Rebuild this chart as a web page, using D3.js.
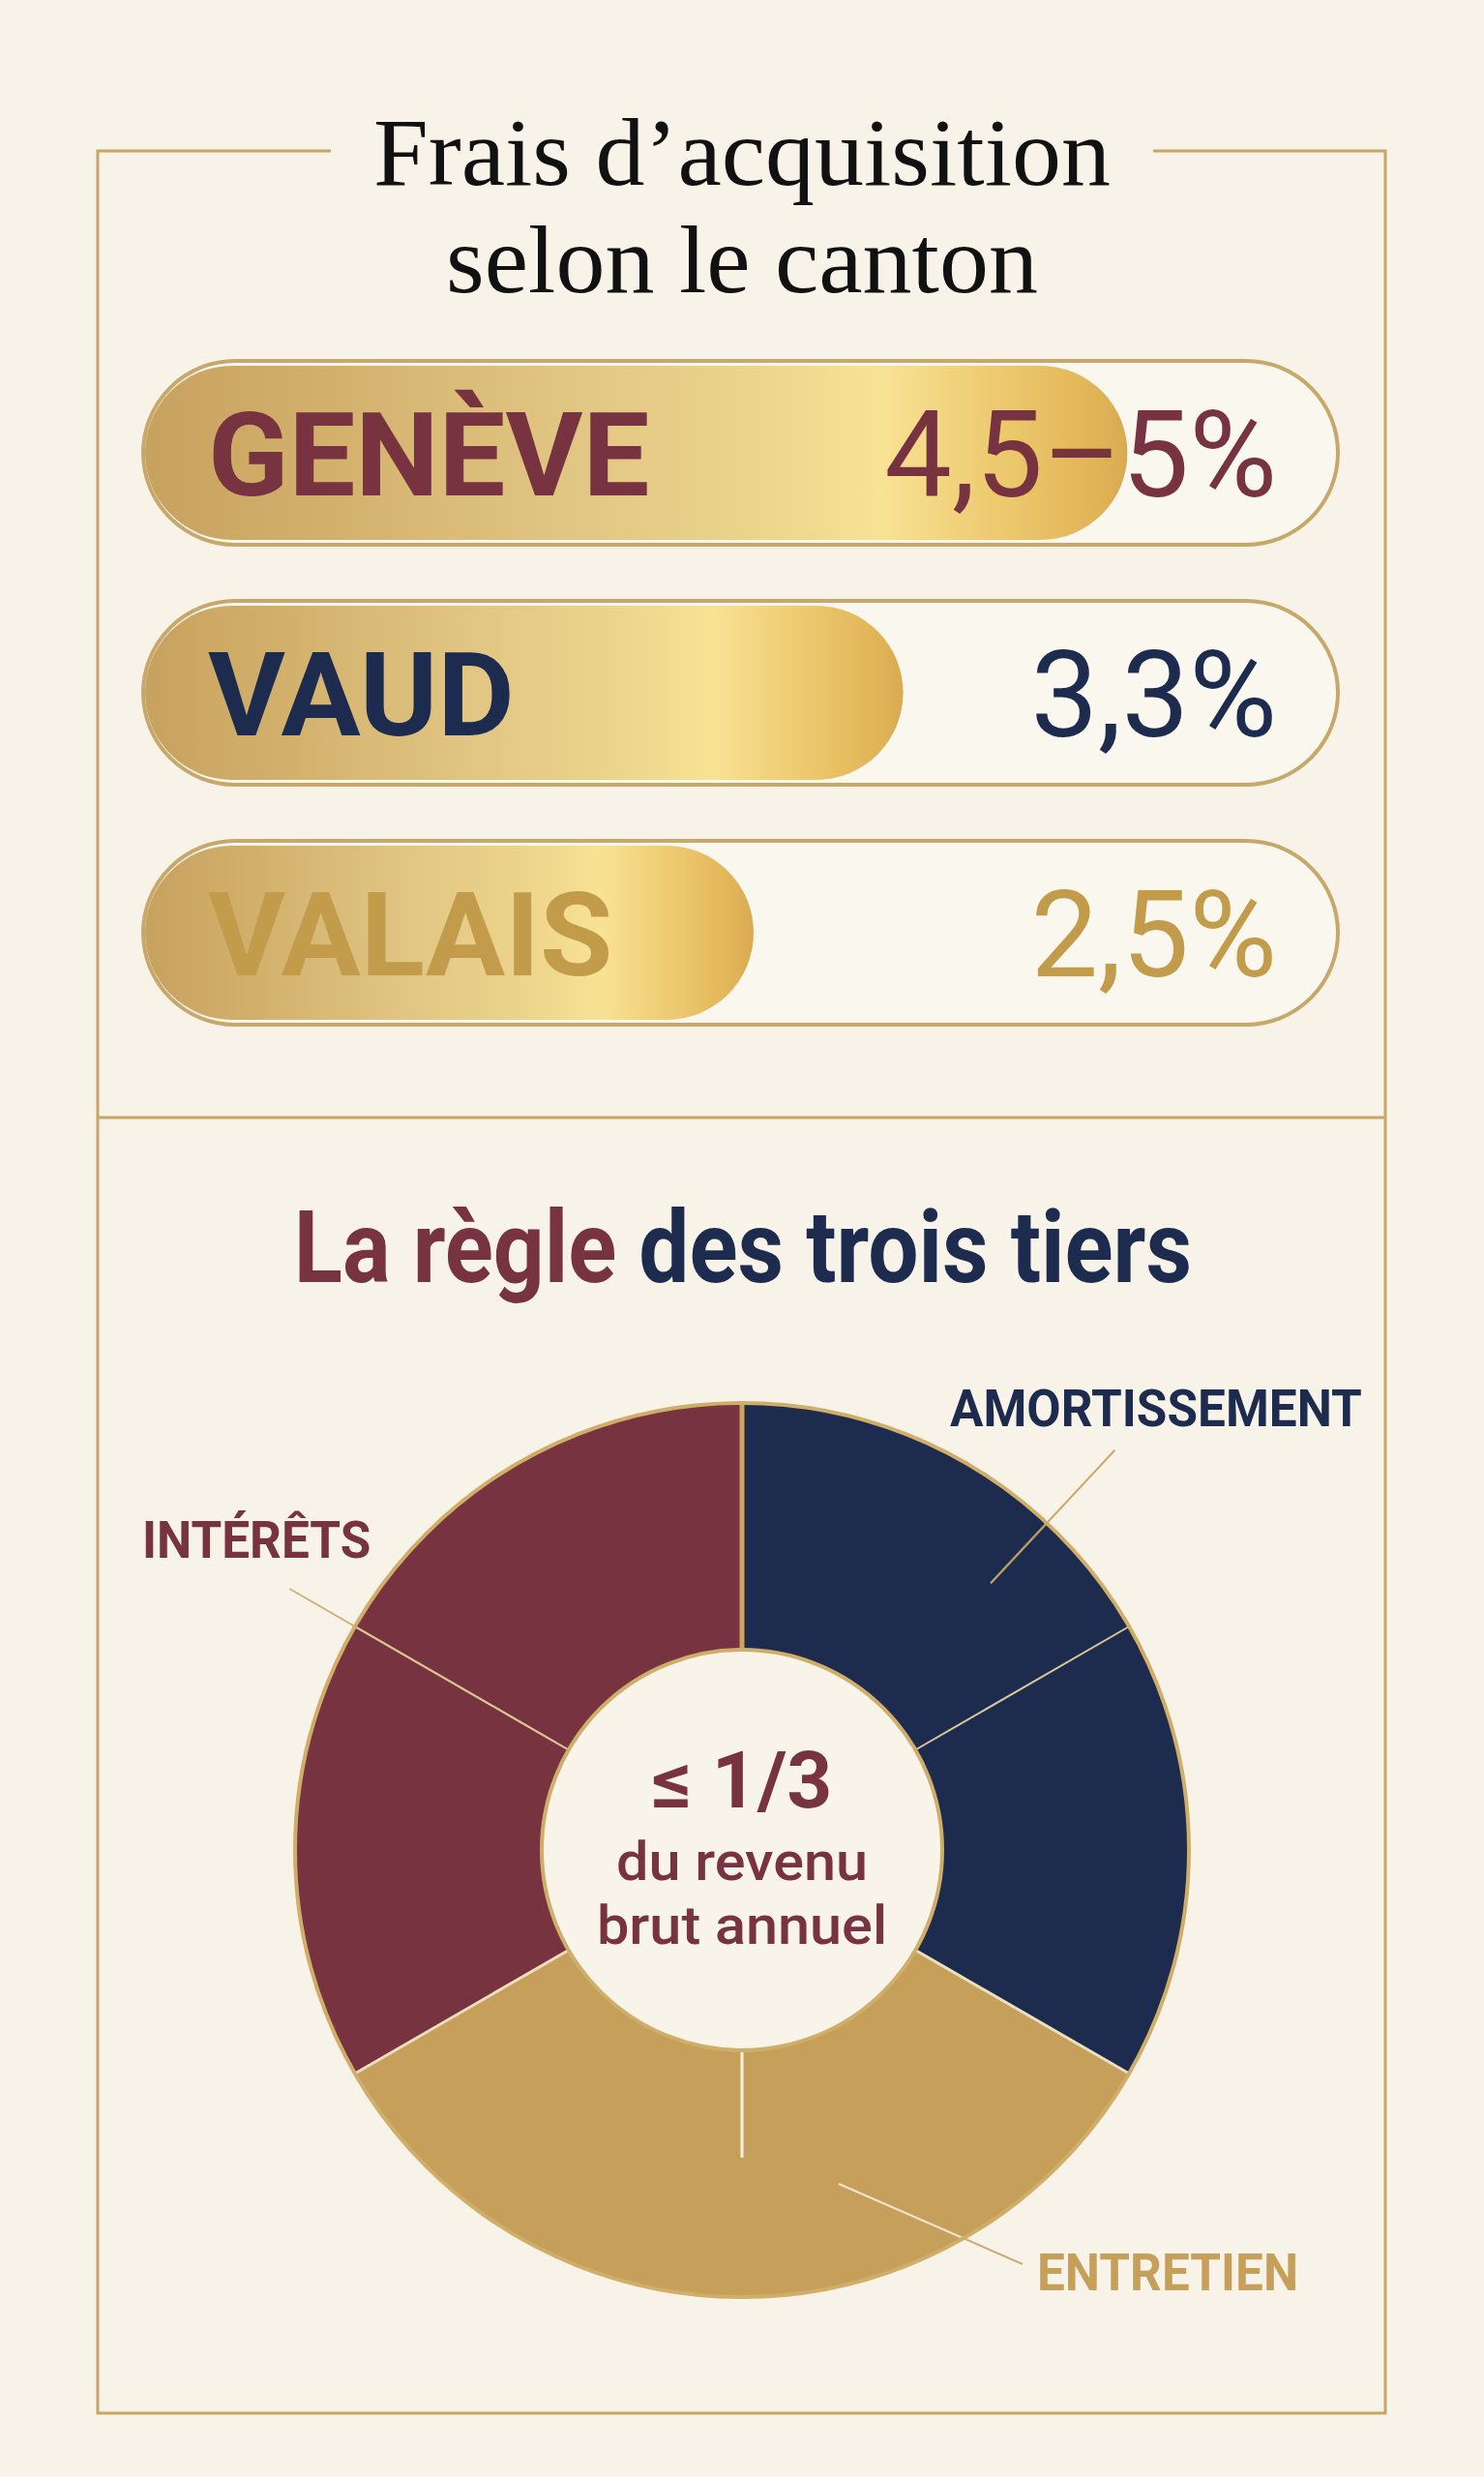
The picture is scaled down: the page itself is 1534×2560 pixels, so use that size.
<!DOCTYPE html>
<html><head><meta charset="utf-8">
<script src="https://cdn.jsdelivr.net/npm/d3@7"></script>
<style>html,body{margin:0;padding:0;background:#f7f3e8;}svg{display:block;}</style>
</head><body>
<svg id="chart" width="1534" height="2560"></svg>
<script>
// ---------- data ----------
const titleLines = ["Frais d’acquisition", "selon le canton"];
const cantons = ["GENÈVE", "VAUD", "VALAIS"];
const rateLow = [4.5, 3.3, 2.5];
const rateHigh = [5, 3.3, 2.5];
const rateLabels = ["4,5–5%", "3,3%", "2,5%"];
const title2Parts = ["La règle ", "des trois tiers"];
const segments = ["AMORTISSEMENT", "ENTRETIEN", "INTÉRÊTS"];
const shares = [1, 1, 1];
const centerLines = ["≤ 1/3", "du revenu", "brut annuel"];

// ---------- style ----------
const BG = "#f7f3e8", GOLD_LINE = "#c6a566";
const BURG = "#77333f", NAVY = "#1c2b4e", GOLD = "#c6a05a";
const cantonColors = [BURG, NAVY, "#c29b4b"];
const segColors = [NAVY, GOLD, BURG];
const SANS = "Roboto, 'Liberation Sans', Arial, sans-serif";
const SERIF = "'Liberation Serif', 'DejaVu Serif', serif";

const svg = d3.select("#chart");
svg.append("rect").attr("width", 1534).attr("height", 2560).attr("fill", BG);

const defs = svg.append("defs");

// ---------- frame ----------
const F = {x0: 101, x1: 1432, y0: 156, y1: 2494, gap0: 342, gap1: 1192, div: 1155};
const frame = svg.append("g").attr("stroke", GOLD_LINE).attr("stroke-width", 3).attr("fill", "none");
frame.append("path").attr("d", `M${F.gap0},${F.y0}H${F.x0}V${F.y1}H${F.x1}V${F.y0}H${F.gap1}`);
frame.append("line").attr("x1", F.x0).attr("x2", F.x1).attr("y1", F.div).attr("y2", F.div);

// helper for horizontally scaled text
function ctext(parent, x, y, sx, anchor) {
  return parent.append("g").attr("transform", `translate(${x},${y}) scale(${sx},1)`)
    .append("text").attr("text-anchor", anchor);
}

// ---------- title 1 ----------
titleLines.forEach((t, i) => {
  ctext(svg, 767, 191 + i * 111, 1.02, "middle")
    .attr("font-family", SERIF).attr("font-size", 100).attr("fill", "#111").text(t);
});

// ---------- bars ----------
const y = d3.scaleBand().domain(cantons).range([373, 1059]).paddingInner(0.234);
const x = d3.scaleLinear().domain([0, 5]).range([296, 1262]);
const trackX0 = 148, trackX1 = 1383, fillX0 = 150;

cantons.forEach((c, i) => {
  const g = defs.append("linearGradient").attr("id", "gold" + i);
  [[0, "#c7a25e"], [0.18, "#d2b06c"], [0.45, "#e2c784"], [0.62, "#ecd48b"], [0.75, "#f8e294"],
   [0.88, "#ecc76c"], [0.96, "#e2b658"], [1, "#d8ab52"]].forEach(s =>
    g.append("stop").attr("offset", s[0]).attr("stop-color", s[1]));
});

const bars = svg.append("g").selectAll("g").data(cantons).join("g");
bars.append("rect")
  .attr("x", trackX0).attr("y", d => y(d))
  .attr("width", trackX1 - trackX0).attr("height", y.bandwidth())
  .attr("rx", y.bandwidth() / 2)
  .attr("fill", "#faf7ee").attr("stroke", "#c8a86a").attr("stroke-width", 4);
bars.append("rect")
  .attr("x", fillX0).attr("y", d => y(d) + 5)
  .attr("width", (d, i) => x(rateLow[i]) - fillX0).attr("height", y.bandwidth() - 10)
  .attr("rx", (y.bandwidth() - 10) / 2)
  .attr("fill", (d, i) => `url(#gold${i})`);
bars.each(function (d, i) {
  const g = d3.select(this);
  const cy = y(d) + y.bandwidth() / 2;
  ctext(g, 215, cy + 44, 1.02, "start")
    .attr("font-family", SANS).attr("font-weight", 700).attr("font-size", 120)
    .attr("fill", cantonColors[i]).text(d);
  ctext(g, 1320, cy + 45, 1.0, "end")
    .attr("font-family", SANS).attr("font-weight", 400).attr("font-size", 124)
    .attr("fill", cantonColors[i]).text(rateLabels[i]);
});

// ---------- title 2 ----------
const t2 = ctext(svg, 768, 1325, 0.9, "middle")
  .attr("font-family", SANS).attr("font-weight", 700).attr("font-size", 103);
t2.append("tspan").attr("fill", BURG).text(title2Parts[0]);
t2.append("tspan").attr("fill", NAVY).text(title2Parts[1]);

// ---------- donut ----------
const cx = 767, cy = 1912, rIn = 207, rOut = 462;
const pie = d3.pie().sort(null).value(d => d)(shares);
const arc = d3.arc().innerRadius(rIn).outerRadius(rOut);
const dg = svg.append("g").attr("transform", `translate(${cx},${cy})`);
const P = (a, r) => [r * Math.sin(a), -r * Math.cos(a)];

dg.selectAll("path.seg").data(pie).join("path").attr("class", "seg")
  .attr("d", arc).attr("fill", (d, i) => segColors[i]);

defs.append("clipPath").attr("id", "ringclip").append("circle").attr("r", rOut);

// main dividers
pie.forEach((d, i) => {
  const a = P(d.startAngle, rIn), b = P(d.startAngle, rOut);
  dg.append("line").attr("x1", a[0]).attr("y1", a[1]).attr("x2", b[0]).attr("y2", b[1])
    .attr("stroke", i === 0 ? "#c9a660" : "#ecdfbf").attr("stroke-width", i === 0 ? 5 : 3);
});

// sub dividers at segment mid angles
const mid = d => (d.startAngle + d.endAngle) / 2;
{
  const a = P(mid(pie[0]), rIn), b = P(mid(pie[0]), rOut);
  dg.append("line").attr("x1", a[0]).attr("y1", a[1]).attr("x2", b[0]).attr("y2", b[1])
    .attr("stroke", "#d9c79a").attr("stroke-width", 2);
  const c = P(mid(pie[1]), rIn), e = P(mid(pie[1]), 318);
  dg.append("line").attr("x1", c[0]).attr("y1", c[1]).attr("x2", e[0]).attr("y2", e[1])
    .attr("stroke", "#f8f2e2").attr("stroke-width", 3);
}

// leader lines (outer part gold, inner part lighter)
function leader(p0, p1, outerCol, innerCol) {
  dg.append("line").attr("x1", p0[0]).attr("y1", p0[1]).attr("x2", p1[0]).attr("y2", p1[1])
    .attr("stroke", outerCol).attr("stroke-width", 2);
  dg.append("line").attr("x1", p0[0]).attr("y1", p0[1]).attr("x2", p1[0]).attr("y2", p1[1])
    .attr("stroke", innerCol).attr("stroke-width", 2).attr("clip-path", "url(#ringclip)");
}
const deg = Math.PI / 180;
leader(P(43 * deg, 377), P(43 * deg, 565), "#c9a86a", "#b99a5e");
leader([100, 345], [290, 428], "#c9ad78", "#f1e7cf");
leader(P(mid(pie[2]), rIn), P(mid(pie[2]), 540), "#cdb07a", "#dcc393");

// outer ring border and inner circle
dg.append("circle").attr("r", rOut).attr("fill", "none").attr("stroke", "#d0ad68").attr("stroke-width", 4);
dg.append("circle").attr("r", rIn).attr("fill", "#f8f4ea").attr("stroke", "#cfae6a").attr("stroke-width", 4);

// center text
ctext(dg, 0, -44, 1.0, "middle").attr("font-family", SANS).attr("font-weight", 700)
  .attr("font-size", 82).attr("fill", BURG).text(centerLines[0]);
ctext(dg, 0, 31, 1.08, "middle").attr("font-family", SANS).attr("font-weight", 500)
  .attr("font-size", 55).attr("fill", BURG).text(centerLines[1]);
ctext(dg, 0, 97, 1.08, "middle").attr("font-family", SANS).attr("font-weight", 500)
  .attr("font-size", 55).attr("fill", BURG).text(centerLines[2]);

// segment labels
const labelPos = [[982, 1474, "start"], [1072, 2367, "start"], [147, 1610, "start"]];
segments.forEach((s, i) => {
  ctext(svg, labelPos[i][0], labelPos[i][1], 0.95, labelPos[i][2])
    .attr("font-family", SANS).attr("font-weight", 700).attr("font-size", 54)
    .attr("fill", segColors[i]).text(s);
});
</script>
</body></html>
